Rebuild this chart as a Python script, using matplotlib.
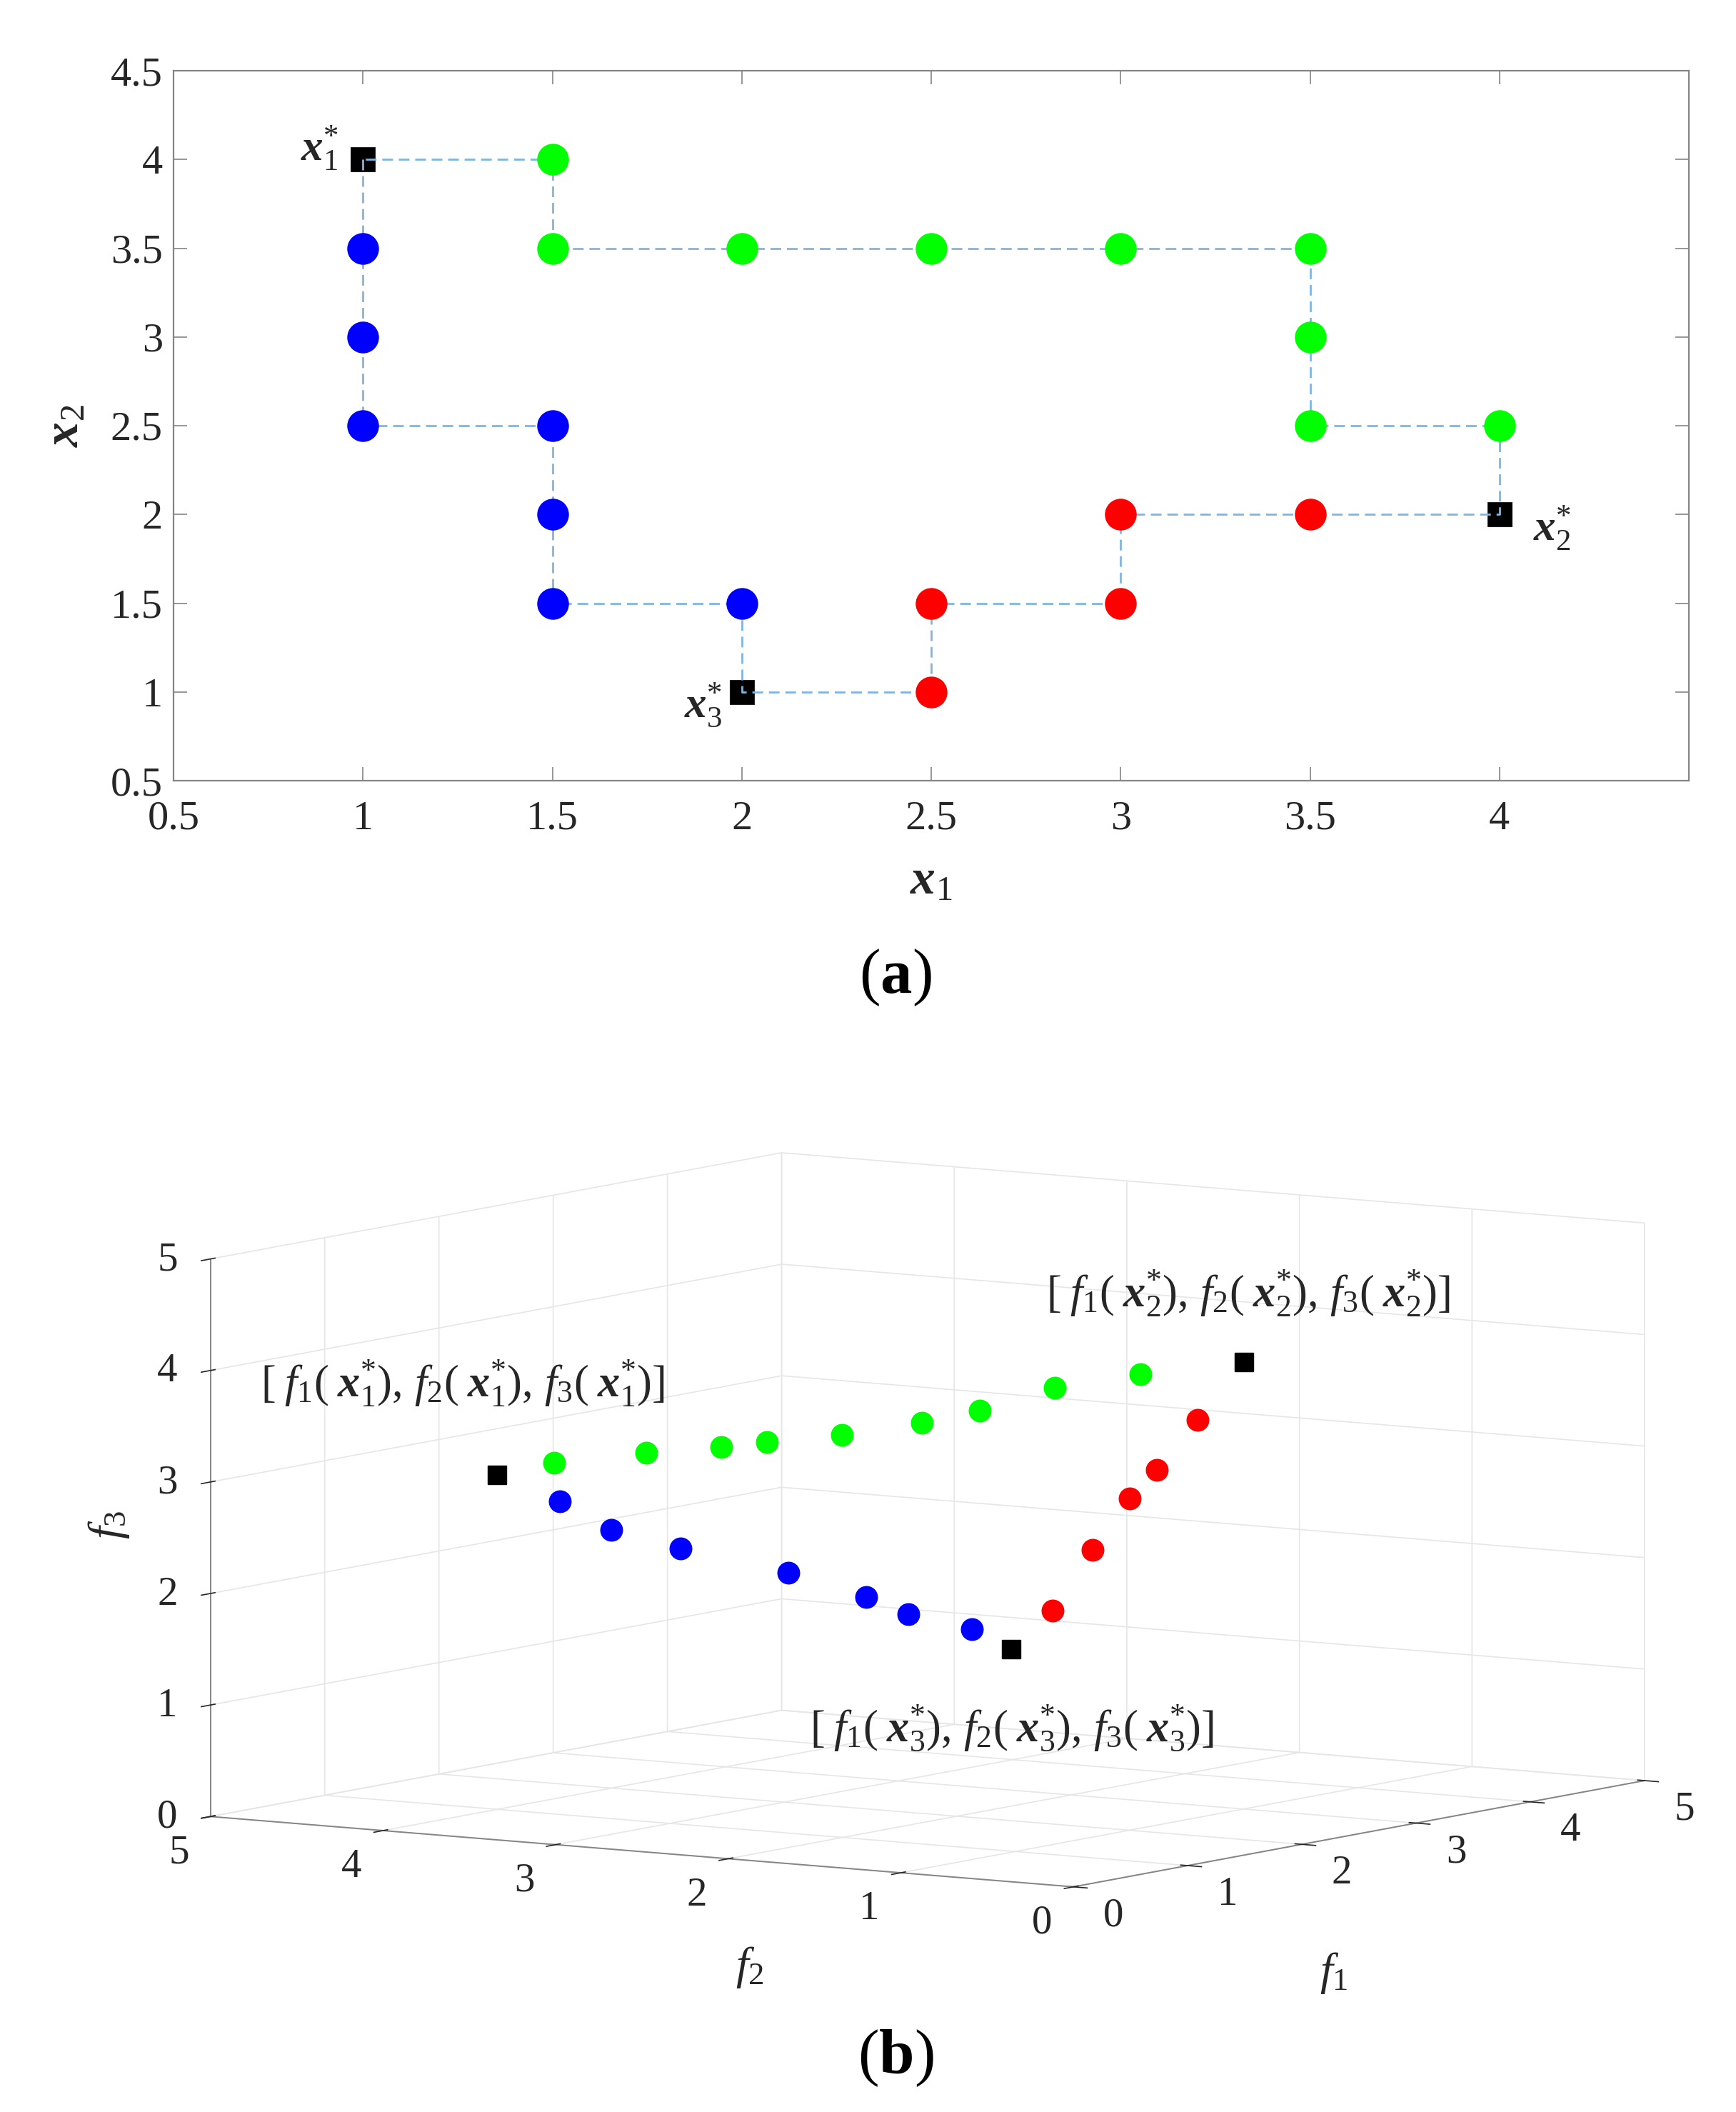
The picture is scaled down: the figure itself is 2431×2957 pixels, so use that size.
import numpy as np
import matplotlib
matplotlib.use("Agg")
import matplotlib.pyplot as plt

# ---------------- data ----------------
# (a) decision space path
star_x1 = [1.0, 4.0, 2.0]          # x1*, x2*, x3*
star_x2 = [4.0, 2.0, 1.0]
blue_x1 = [1.0, 1.0, 1.0, 1.5, 1.5, 1.5, 2.0]
blue_x2 = [3.5, 3.0, 2.5, 2.5, 2.0, 1.5, 1.5]
red_x1 = [2.5, 2.5, 3.0, 3.0, 3.5]
red_x2 = [1.0, 1.5, 1.5, 2.0, 2.0]
green_x1 = [4.0, 3.5, 3.5, 3.5, 3.0, 2.5, 2.0, 1.5, 1.5]
green_x2 = [2.5, 2.5, 3.0, 3.5, 3.5, 3.5, 3.5, 3.5, 4.0]
xticks_a = [0.5, 1, 1.5, 2, 2.5, 3, 3.5, 4]
xticklabels_a = ["0.5", "1", "1.5", "2", "2.5", "3", "3.5", "4"]
yticks_a = [0.5, 1, 1.5, 2, 2.5, 3, 3.5, 4, 4.5]
yticklabels_a = ["0.5", "1", "1.5", "2", "2.5", "3", "3.5", "4", "4.5"]

# (b) objective space (f1, f2, f3)
star_f1 = [1.353, 3.345, 2.724]
star_f2 = [4.236, 1.226, 2.163]
star_f3 = [2.904, 3.911, 1.339]
blue_f1 = [1.521, 1.657, 1.842, 2.129, 2.337, 2.451, 2.618]
blue_f2 = [3.981, 3.775, 3.497, 3.062, 2.748, 2.577, 2.323]
blue_f3 = [2.663, 2.411, 2.244, 2.026, 1.804, 1.653, 1.519]
red_f1 = [2.834, 2.941, 3.041, 3.113, 3.221]
red_f2 = [1.997, 1.835, 1.685, 1.576, 1.413]
red_f3 = [1.685, 2.232, 2.689, 2.949, 3.394]
green_f1 = [3.069, 2.840, 2.640, 2.487, 2.272, 2.073, 1.950, 1.751, 1.506]
green_f2 = [1.642, 1.988, 2.290, 2.522, 2.847, 3.147, 3.332, 3.634, 4.005]
green_f3 = [3.803, 3.684, 3.478, 3.369, 3.264, 3.197, 3.153, 3.102, 3.014]
ticks_b = [0, 1, 2, 3, 4, 5]

# ---------------- style ----------------
plt.rcParams["font.family"] = ["Liberation Serif", "DejaVu Serif"]
plt.rcParams["mathtext.fontset"] = "custom"
plt.rcParams["mathtext.rm"] = "Liberation Serif"
plt.rcParams["mathtext.it"] = "Liberation Serif:italic"
plt.rcParams["mathtext.bf"] = "Liberation Serif:bold"
plt.rcParams["mathtext.bfit"] = "Liberation Serif:bold:italic"
plt.rcParams["grid.color"] = "#e6e6e6"
plt.rcParams["grid.linewidth"] = 1.2

TXT = "#262626"
SPINE = "#858585"
BLUE, RED, GREEN = "#0000ff", "#ff0000", "#00ff00"
LINEC = "#7db6e2"

W, H = 2431, 2957
fig = plt.figure(figsize=(W / 100, H / 100), dpi=100)

# ---------------- (a) ----------------
ax1 = fig.add_axes([243 / W, 1 - 1093 / H, 2122 / W, 994 / H])
path_x1 = [star_x1[0]] + blue_x1 + [star_x1[2]] + red_x1 + [star_x1[1]] + green_x1 + [star_x1[0]]
path_x2 = [star_x2[0]] + blue_x2 + [star_x2[2]] + red_x2 + [star_x2[1]] + green_x2 + [star_x2[0]]
ax1.plot(star_x1, star_x2, ls="none", marker="s", ms=25, mfc="black", mec="#222222", mew=0.8, zorder=2)
ax1.plot(path_x1, path_x2, color=LINEC, lw=2.0, ls=(0, (5.4, 2.9)), zorder=3)
ax1.plot(blue_x1, blue_x2, ls="none", marker="o", ms=31, mfc=BLUE, mec=BLUE, zorder=4)
ax1.plot(red_x1, red_x2, ls="none", marker="o", ms=31, mfc=RED, mec=RED, zorder=4)
ax1.plot(green_x1, green_x2, ls="none", marker="o", ms=31, mfc=GREEN, mec=GREEN, zorder=4)
ax1.set_xlim(0.5, 4.5)
ax1.set_ylim(0.5, 4.5)
ax1.set_xticks(xticks_a)
ax1.set_xticklabels(xticklabels_a)
ax1.set_yticks(yticks_a)
ax1.set_yticklabels(yticklabels_a)
ax1.tick_params(direction="in", top=True, right=True, length=14, width=1.2,
                color=SPINE, labelcolor=TXT, labelsize=42)
ax1.tick_params(axis="x", pad=20)
ax1.tick_params(axis="y", pad=11)
for s in ax1.spines.values():
    s.set_color(SPINE)
    s.set_linewidth(1.6)
ax1.set_xlabel(r"$\mathbfit{x}_1$", fontsize=50, color=TXT, labelpad=22)
ax1.set_ylabel(r"$\mathbfit{x}_2$", fontsize=50, color=TXT, labelpad=22)

lab_a = [r"$\mathbfit{x}^{*}_{\mathit{1}}$", r"$\mathbfit{x}^{*}_{\mathit{2}}$", r"$\mathbfit{x}^{*}_{\mathit{3}}$"]
offs = [(-24.5, 11.5), (34, -13.5), (-19.5, -13)]
has = ["right", "left", "right"]
for i in range(3):
    ax1.annotate(lab_a[i], xy=(star_x1[i], star_x2[i]), xytext=offs[i], textcoords="offset points",
                 ha=has[i], va="center", fontsize=44, color=TXT)

fig.text(1254 / W, 1 - 1369 / H, r"($\mathbf{a}$)", ha="center", va="center", fontsize=64, color="black")

# ---------------- (b) ----------------
ax3 = fig.add_axes([0.1, 0.02, 0.8, 0.8 * W / H], projection="3d", proj_type="ortho")
ax3.patch.set_alpha(0)
ax3.set_box_aspect((1, 1, 0.5428))
ax3.view_init(elev=7.07, azim=-146.5)
ax3.set_xlim(0, 5)
ax3.set_ylim(0, 5)
ax3.set_zlim(0, 5)
ax3.set_xticks(ticks_b)
ax3.set_yticks(ticks_b)
ax3.set_zticks(ticks_b)
for axis in (ax3.xaxis, ax3.yaxis, ax3.zaxis):
    axis.set_pane_color((1, 1, 1, 0))
    axis.pane.set_edgecolor("#e6e6e6")
    axis.line.set_color(SPINE)
    axis.line.set_linewidth(1.4)
    axis._axinfo["tick"]["color"] = SPINE
    axis._axinfo["tick"]["linewidth"] = {True: 1.2, False: 1.0}
ax3.tick_params(labelsize=41, labelcolor=TXT, colors=TXT)
ax3.tick_params(axis="x", pad=29)
ax3.tick_params(axis="y", pad=36)
ax3.tick_params(axis="z", pad=16)

ax3.plot(star_f1, star_f2, star_f3, ls="none", marker="s", ms=19, mfc="black", mec="black")
ax3.plot(blue_f1, blue_f2, blue_f3, ls="none", marker="o", ms=22, mfc=BLUE, mec=BLUE)
ax3.plot(red_f1, red_f2, red_f3, ls="none", marker="o", ms=22, mfc=RED, mec=RED)
ax3.plot(green_f1, green_f2, green_f3, ls="none", marker="o", ms=22, mfc=GREEN, mec=GREEN)

# calibrate axes placement so the box corners land where they are in the reference
L_t = np.array([294.7, H - 2543.3])
R_t = np.array([2303.0, H - 2492.0])


def to_px(p):
    M = ax3.get_proj()
    v = M @ np.array([p[0], p[1], p[2], 1.0])
    return ax3.transData.transform((v[0] / v[3], v[1] / v[3]))


for _ in range(4):
    fig.canvas.draw()
    pL, pR = to_px((0, 5, 0)), to_px((5, 0, 0))
    bb = ax3.get_position()
    s = np.linalg.norm(R_t - L_t) / np.linalg.norm(pR - pL)
    cx, cy = (bb.x0 + bb.x1) / 2 * W, (bb.y0 + bb.y1) / 2 * H
    w, h = bb.width * W * s, bb.height * H * s
    ncx = L_t[0] - s * (pL[0] - cx)
    ncy = L_t[1] - s * (pL[1] - cy)
    ax3.set_position([(ncx - w / 2) / W, (ncy - h / 2) / H, w / W, h / H])

for axis in (ax3.xaxis, ax3.yaxis, ax3.zaxis):
    for tk in axis.get_major_ticks():
        tk.label1.set_verticalalignment("center")
        tk.label1.set_horizontalalignment("center")

# axis titles of the 3-D panel
fig.text(1868 / W, 1 - 2762 / H, r"$f_1$", ha="center", va="center", fontsize=46, color=TXT)
fig.text(1050 / W, 1 - 2755 / H, r"$f_2$", ha="center", va="center", fontsize=46, color=TXT)
fig.text(152 / W, 1 - 2135 / H, r"$f_3$", ha="center", va="center", fontsize=46, color=TXT, rotation=90)

ann = (r"$[\;f_{\mathit{1}}(\;\mathbfit{x}^{*}_{\mathit{%s}}),\,f_{\mathit{2}}(\;\mathbfit{x}^{*}_{\mathit{%s}}),"
       r"\,f_{\mathit{3}}(\;\mathbfit{x}^{*}_{\mathit{%s}})]$")
fig.text(648 / W, 1 - 1937 / H, ann % ("1", "1", "1"), ha="center", va="center", fontsize=45, color=TXT)
fig.text(1747.5 / W, 1 - 1811 / H, ann % ("2", "2", "2"), ha="center", va="center", fontsize=45, color=TXT)
fig.text(1416.5 / W, 1 - 2419 / H, ann % ("3", "3", "3"), ha="center", va="center", fontsize=45, color=TXT)

fig.text(1254 / W, 1 - 2882 / H, r"($\mathbf{b}$)", ha="center", va="center", fontsize=64, color="black")

fig.savefig("out.png", dpi=100, facecolor="white")
